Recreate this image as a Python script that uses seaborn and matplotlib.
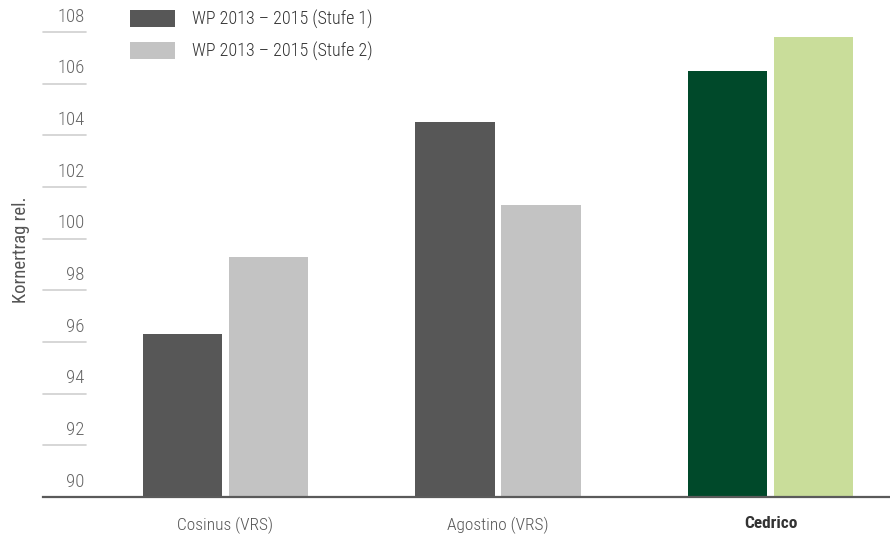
import numpy as np
import pandas as pd
import seaborn as sns
import matplotlib.pyplot as plt
from matplotlib.patches import Patch

# data
sorten = ["Cosinus (VRS)", "Agostino (VRS)", "Cedrico"]
serien = ["WP 2013 – 2015 (Stufe 1)", "WP 2013 – 2015 (Stufe 2)"]
stufe1 = [96.3, 104.5, 106.5]
stufe2 = [99.3, 101.3, 107.8]
y_ticks = [90, 92, 94, 96, 98, 100, 102, 104, 106, 108]

dark_grey = "#575757"
light_grey = "#c3c3c3"
dark_green = "#00492a"
light_green = "#c9dd9a"

sns.set_theme(style="white")
plt.rcParams['font.family'] = ['Roboto Condensed', 'DejaVu Sans']
plt.rcParams['font.weight'] = 'light'

df = pd.DataFrame({
    "Sorte": sorten * 2,
    "Serie": [serien[0]] * 3 + [serien[1]] * 3,
    "Wert": stufe1 + stufe2,
})

fig = plt.figure(figsize=(8.9, 5.34), dpi=100)
ax = fig.add_axes([43 / 890, 37 / 534, 847 / 890, 465 / 534])

sns.barplot(data=df, x="Sorte", y="Wert", hue="Serie",
            palette=[dark_grey, light_grey], width=0.631, gap=0.08,
            saturation=1, legend=False, ax=ax)

# Cedrico is highlighted in green
ax.containers[0][2].set_facecolor(dark_green)
ax.containers[1][2].set_facecolor(light_green)
for bar in ax.patches:
    bar.set_edgecolor("none")

ax.set_ylim(90, 108)
ax.set_xlim(-0.6697, 2.4385)

# y axis: short stubs with the numbers sitting on top
ax.set_yticks([])
ax.set_ylabel("Kornertrag rel.", color="#555555", fontsize=13.5)
ax.yaxis.set_label_coords(-0.0153, 0.531)
stub = (86 - 43) / 847
ytrans = ax.get_yaxis_transform()
for v in y_ticks:
    if v != 90:
        ax.plot([0, stub], [v, v], color="#cfcfcf", lw=1.2, transform=ytrans,
                clip_on=False)
    ax.annotate(str(v), xy=(stub, v), xycoords=ytrans, xytext=(-1, 4.5),
                textcoords="offset points", ha="right", va="bottom",
                color="#666666", fontsize=13.5)

# x axis
ax.set_xlabel("")
ax.tick_params(axis="x", length=0, pad=14, labelsize=12.5, labelcolor="#555555")
ax.get_xticklabels()[2].set_fontweight("bold")
ax.get_xticklabels()[2].set_color("#333333")

for side in ["top", "right", "left"]:
    ax.spines[side].set_visible(False)
ax.spines["bottom"].set_color("#5a5a5a")
ax.spines["bottom"].set_linewidth(1.6)

handles = [Patch(facecolor=dark_grey, edgecolor="none"),
           Patch(facecolor=light_grey, edgecolor="none")]
fig.legend(handles, serien, loc="upper left", bbox_to_anchor=(130 / 890, 1 - 10 / 534),
           frameon=False, fontsize=13, handlelength=2.5, handleheight=1.1,
           handletextpad=0.92, labelspacing=0.7, borderpad=0, borderaxespad=0,
           labelcolor="#333333")

fig.savefig("out.png", dpi=100)
